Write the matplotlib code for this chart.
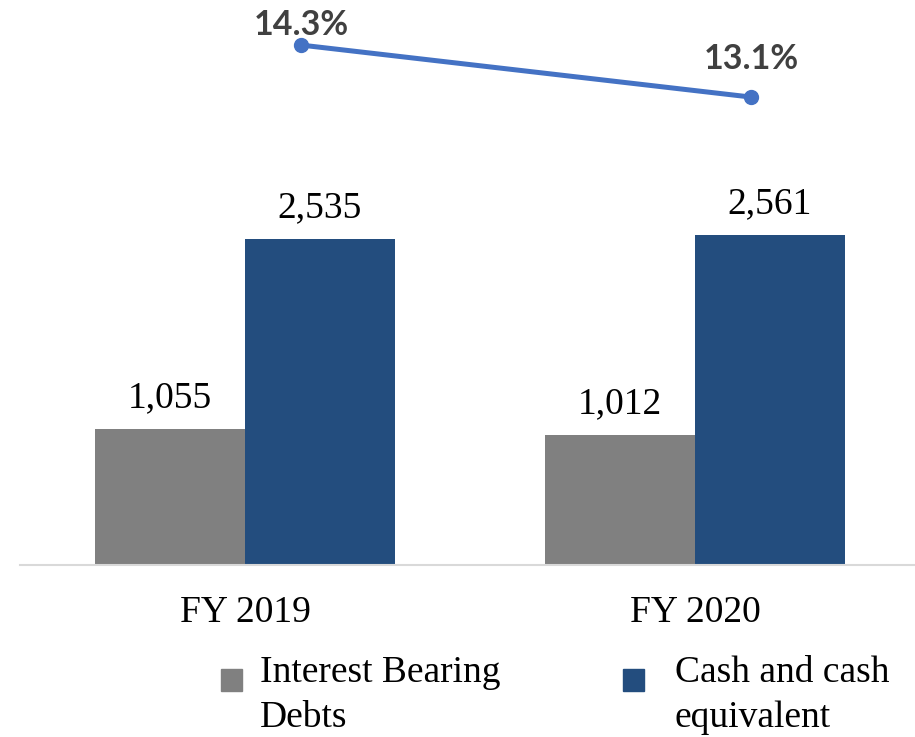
import matplotlib.pyplot as plt
import matplotlib.transforms as mtransforms
from matplotlib.patches import Rectangle
import numpy as np

years = ['FY 2019', 'FY 2020']
series_names = ['Interest Bearing\nDebts', 'Cash and cash\nequivalent']
debts = [1055, 1012]
cash = [2535, 2561]
ratio = [14.3, 13.1]

grey = '#808080'
blue = '#234D7E'
line_blue = '#4472C4'

fig = plt.figure(figsize=(9.15, 7.37), dpi=100)
ax = fig.add_axes([0.0219, 0.2334, 0.978, 0.7666])

x = np.arange(len(years))
w = 1 / 3
b1 = ax.bar(x - w / 2, debts, w, color=grey)
b2 = ax.bar(x + w / 2, cash, w, color=blue)
for bars, vals in [(b1, debts), (b2, cash)]:
    ax.bar_label(bars, labels=[f'{v:,}' for v in vals], padding=10,
                 fontsize=27, family='Liberation Serif')

ax.set_xlim(-0.5, 1.489)
ax.set_ylim(0, 4390)
ax.set_xticks(x, years)
ax.tick_params(axis='x', length=0, pad=22, labelsize=27)
for lab in ax.get_xticklabels():
    lab.set_family('Liberation Serif')
ax.set_yticks([])
for s in ['top', 'left', 'right']:
    ax.spines[s].set_visible(False)
ax.spines['bottom'].set_color('#D9D9D9')
ax.spines['bottom'].set_linewidth(1.5)

# ratio line on a secondary axis, shifted a bit right of the group centres
ax2 = ax.twinx()
ax2.set_ylim(2.3, 15.34)
ax2.axis('off')
shift = mtransforms.ScaledTranslation(0.56, 0, fig.dpi_scale_trans)
ax2.plot(x, ratio, color=line_blue, lw=3.6, marker='o', ms=10,
         transform=ax2.transData + shift)
label_dy = [7, 20]  # first label squeezed against the top of the plot area
for xi, v, dy in zip(x, ratio, label_dy):
    ax2.annotate(f'{v}%', (xi, v), xytext=(0, dy), textcoords='offset points',
                 ha='center', va='baseline', fontsize=24.5, fontweight='bold',
                 family='Lato', color='#404040',
                 xycoords=ax2.transData + shift)

# legend drawn by hand: square marker next to first line of the label
# (va='baseline' on multi-line text anchors the last line)
for name, col, mx, tx in zip(series_names, [grey, blue], [221, 623], [260, 675]):
    fig.patches.append(Rectangle((mx / 915, 1 - 691 / 737), 21 / 915, 22 / 737,
                                 transform=fig.transFigure, color=col))
    fig.text(tx / 915, 1 - 727 / 737, name, ha='left', va='baseline',
             fontsize=27, family='Liberation Serif', linespacing=1.4)

fig.savefig('out.png', dpi=100)
